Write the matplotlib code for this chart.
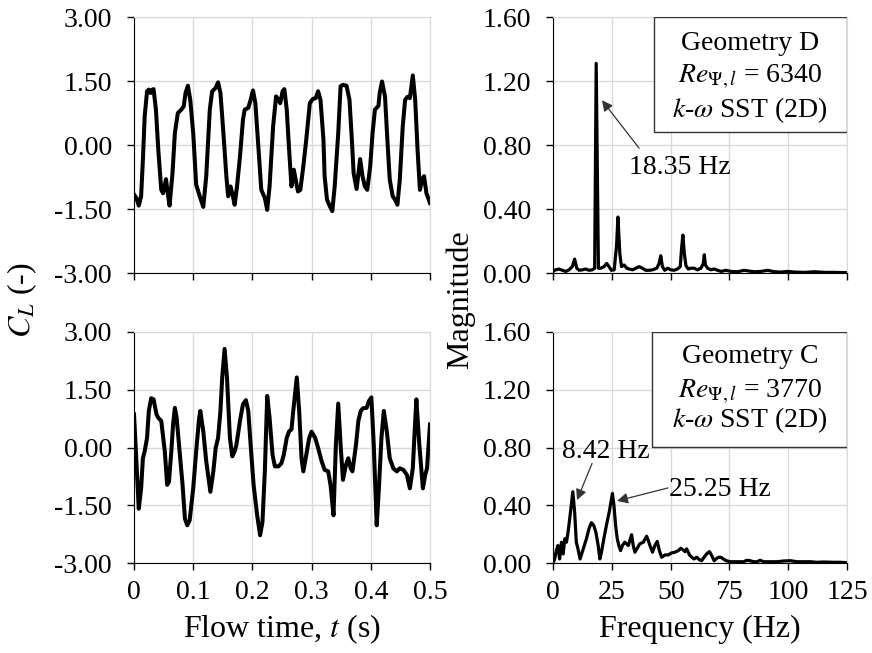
import matplotlib
matplotlib.use('Agg')
import matplotlib.pyplot as plt
from matplotlib.patches import Rectangle

plt.rcParams['font.family'] = ['Liberation Serif', 'DejaVu Serif']
plt.rcParams['mathtext.fontset'] = 'stix'

# Geometry D: lift coefficient history
T_D = [0.000, 0.004, 0.008, 0.012, 0.015, 0.018, 0.022, 0.025, 0.028, 0.031, 0.033, 0.037, 0.041,
       0.046, 0.049, 0.054, 0.057, 0.060, 0.065, 0.069, 0.074, 0.080, 0.084, 0.087, 0.091, 0.095,
       0.100, 0.105, 0.111, 0.117, 0.122, 0.128, 0.132, 0.138, 0.142, 0.146, 0.151, 0.156, 0.159,
       0.163, 0.166, 0.170, 0.174, 0.179, 0.184, 0.187, 0.193, 0.197, 0.201, 0.205, 0.210, 0.215,
       0.221, 0.225, 0.229, 0.235, 0.240, 0.244, 0.247, 0.251, 0.254, 0.258, 0.262, 0.266, 0.270,
       0.273, 0.277, 0.281, 0.286, 0.291, 0.297, 0.302, 0.307, 0.311, 0.315, 0.320, 0.322, 0.326,
       0.331, 0.335, 0.339, 0.345, 0.349, 0.353, 0.359, 0.364, 0.368, 0.371, 0.376, 0.382, 0.386,
       0.390, 0.394, 0.399, 0.403, 0.407, 0.413, 0.415, 0.419, 0.424, 0.428, 0.432, 0.437, 0.441,
       0.445, 0.449, 0.454, 0.458, 0.462, 0.466, 0.471, 0.475, 0.479, 0.483, 0.487, 0.490, 0.494,
       0.500]
CL_D = [-1.16, -1.24, -1.42, -1.20, -0.34, 0.67, 1.26, 1.30, 1.22, 1.30, 1.31, 0.83, -0.11,
        -1.05, -1.13, -0.80, -1.13, -1.42, -0.66, 0.28, 0.75, 0.83, 0.91, 1.22, 1.39, 1.06,
        0.28, -0.93, -1.20, -1.45, -0.73, 0.83, 1.26, 1.34, 1.47, 1.22, 0.28, -0.73, -1.20,
        -0.97, -1.13, -1.40, -0.97, -0.27, 0.59, 0.83, 0.87, 1.06, 1.28, 0.98, -0.03, -1.05,
        -1.24, -1.52, -0.97, 0.44, 1.14, 1.06, 0.98, 1.26, 1.31, 0.83, -0.11, -0.97, -0.58,
        -0.81, -1.09, -1.05, -0.50, 0.13, 0.98, 1.08, 1.10, 1.26, 1.06, 0.13, -0.73, -1.28,
        -1.44, -1.55, -0.97, 0.28, 1.38, 1.41, 1.39, 1.06, 0.13, -0.66, -1.03, -0.33, -0.73,
        -0.97, -1.05, -0.50, 0.28, 0.83, 0.92, 1.22, 1.49, 1.14, 0.13, -0.81, -1.20, -1.28,
        -1.40, -0.81, 0.44, 1.06, 1.13, 1.10, 1.63, 1.06, -0.11, -1.05, -0.80, -0.73, -1.13,
        -1.36]

# Geometry C: lift coefficient history
T_C = [0.000, 0.004, 0.008, 0.012, 0.015, 0.018, 0.022, 0.025, 0.029, 0.033, 0.038, 0.041, 0.046,
       0.052, 0.056, 0.059, 0.063, 0.066, 0.069, 0.072, 0.076, 0.082, 0.086, 0.090, 0.094, 0.100,
       0.105, 0.110, 0.112, 0.117, 0.122, 0.129, 0.134, 0.138, 0.142, 0.146, 0.149, 0.153, 0.157,
       0.162, 0.166, 0.170, 0.173, 0.179, 0.184, 0.189, 0.193, 0.197, 0.202, 0.208, 0.213, 0.217,
       0.221, 0.225, 0.229, 0.234, 0.238, 0.244, 0.249, 0.253, 0.258, 0.262, 0.266, 0.269, 0.275,
       0.279, 0.283, 0.286, 0.290, 0.296, 0.300, 0.306, 0.311, 0.317, 0.322, 0.328, 0.332, 0.337,
       0.341, 0.345, 0.349, 0.353, 0.358, 0.362, 0.366, 0.369, 0.375, 0.379, 0.383, 0.387, 0.393,
       0.397, 0.401, 0.405, 0.410, 0.414, 0.418, 0.422, 0.427, 0.432, 0.438, 0.444, 0.449, 0.455,
       0.461, 0.466, 0.471, 0.475, 0.477, 0.482, 0.488, 0.492, 0.495, 0.500]
CL_C = [0.86, -0.36, -1.59, -1.06, -0.28, -0.10, 0.25, 0.95, 1.28, 1.25, 0.86, 0.77, 0.69,
        -0.10, -0.97, -0.89, -0.10, 0.60, 1.03, 0.77, 0.07, -0.97, -1.85, -2.02, -1.89, -1.06,
        -0.10, 0.77, 0.95, 0.42, -0.36, -1.15, -0.62, -0.01, 0.25, 0.95, 1.82, 2.56, 1.82,
        0.25, -0.23, -0.10, 0.07, 0.69, 1.12, 1.23, 0.95, 0.07, -0.97, -1.76, -2.28, -1.93,
        -0.62, 1.34, 0.77, -0.19, -0.49, -0.49, -0.41, -0.19, 0.25, 0.42, 0.47, 0.95, 1.82,
        0.95, -0.28, -0.62, -0.28, 0.25, 0.41, 0.25, -0.01, -0.36, -0.58, -0.62, -0.97, -1.76,
        0.07, 1.14, 0.07, -0.84, -0.45, -0.28, -0.54, -0.62, 0.07, 0.69, 0.95, 1.02, 1.03,
        1.21, 1.30, 0.07, -2.02, -0.97, 0.25, 0.95, 0.42, -0.28, -0.54, -0.62, -0.54, -0.58,
        -0.71, -1.06, -0.54, 0.69, 1.25, 0.07, -1.06, -0.71, -0.54, 0.60]

# Geometry D: spectrum
F_D = [0, 1.1, 2.6, 4.0, 5.4, 6.8, 8.2, 9.2, 10.1, 11.1, 12.5, 13.9, 15.3, 16.7, 17.7, 18.35,
       19.3, 20.3, 21.7, 22.8, 23.8, 24.8, 26.0, 27.0, 27.6, 28.4, 29.1, 30.2, 31.4, 32.4, 33.8,
       35.2, 36.6, 38.0, 39.4, 40.9, 42.3, 44.1, 45.1, 45.8, 46.5, 47.5, 48.7, 50.1, 51.5, 52.9,
       54.1, 54.6, 55.2, 55.8, 56.5, 57.5, 58.6, 60.0, 61.4, 62.9, 63.9, 64.3, 64.8, 65.7, 67.1,
       68.5, 70.0, 71.4, 73.5, 75.6, 78.5, 81.3, 83.4, 85.6, 88.4, 91.2, 94.1, 96.9, 99.8, 102.6,
       106.9, 111.1, 115.4, 119.6, 125.0]
MAG_D = [0.010, 0.020, 0.025, 0.017, 0.010, 0.020, 0.040, 0.087, 0.030, 0.017, 0.020, 0.025,
         0.017, 0.020, 0.030, 1.310, 0.030, 0.030, 0.040, 0.060, 0.040, 0.017, 0.020, 0.170,
         0.350, 0.120, 0.040, 0.050, 0.030, 0.025, 0.020, 0.030, 0.040, 0.030, 0.017, 0.017,
         0.020, 0.030, 0.060, 0.108, 0.040, 0.017, 0.030, 0.020, 0.017, 0.025, 0.040, 0.145,
         0.237, 0.125, 0.046, 0.025, 0.030, 0.030, 0.020, 0.030, 0.060, 0.114, 0.050, 0.030,
         0.020, 0.025, 0.017, 0.010, 0.017, 0.010, 0.008, 0.017, 0.012, 0.008, 0.010, 0.017,
         0.008, 0.006, 0.010, 0.006, 0.004, 0.008, 0.004, 0.004, 0.002]

# Geometry C: spectrum
F_C = [0, 0.7, 1.4, 2.1, 2.8, 3.6, 4.3, 5.0, 5.7, 6.4, 7.1, 8.42, 9.2, 9.9, 10.6, 11.5, 12.4,
       13.3, 14.2, 15.3, 16.3, 17.3, 18.2, 19.2, 19.9, 20.6, 21.6, 22.7, 23.9, 25.25, 25.9, 26.6,
       27.3, 28.0, 28.7, 29.5, 30.5, 32.0, 33.4, 34.1, 34.8, 35.8, 36.9, 38.4, 39.8, 40.5, 41.2,
       42.3, 43.3, 44.3, 45.2, 46.2, 47.6, 49.0, 50.4, 51.8, 53.3, 54.3, 55.1, 56.1, 56.8, 58.0,
       59.0, 59.9, 61.1, 62.2, 63.2, 64.2, 65.3, 66.5, 67.5, 68.5, 69.3, 70.3, 71.3, 72.4, 73.6,
       75.3, 78.1, 81.0, 82.4, 83.8, 85.2, 86.7, 88.1, 89.5, 92.3, 95.2, 98.0, 100.9, 103.7,
       106.5, 109.4, 112.2, 115.1, 119.3, 122.2, 125.0]
MAG_C = [0.000, 0.028, 0.086, 0.121, 0.028, 0.144, 0.063, 0.168, 0.144, 0.214, 0.307, 0.494,
         0.350, 0.144, 0.098, 0.028, 0.075, 0.121, 0.168, 0.238, 0.279, 0.261, 0.214, 0.121,
         0.028, 0.075, 0.168, 0.261, 0.354, 0.482, 0.400, 0.261, 0.168, 0.121, 0.086, 0.121,
         0.144, 0.121, 0.196, 0.121, 0.075, 0.102, 0.133, 0.144, 0.186, 0.156, 0.121, 0.075,
         0.121, 0.149, 0.086, 0.040, 0.056, 0.056, 0.070, 0.075, 0.086, 0.102, 0.093, 0.079,
         0.098, 0.056, 0.040, 0.028, 0.040, 0.023, 0.016, 0.040, 0.063, 0.079, 0.051, 0.016,
         0.028, 0.040, 0.040, 0.028, 0.016, 0.009, 0.009, 0.009, 0.019, 0.016, 0.009, 0.009,
         0.019, 0.009, 0.009, 0.009, 0.014, 0.016, 0.009, 0.009, 0.009, 0.005, 0.007, 0.005,
         0.005, 0.002]

GRID = '#d9d9d9'
TICK_FS = 20
LABEL_FS = 23


def style_axes(ax):
    ax.grid(True, color=GRID, lw=1)
    ax.set_axisbelow(True)
    for s in ('top', 'right'):
        ax.spines[s].set_color(GRID)
    for s in ('left', 'bottom'):
        ax.spines[s].set_color('black')
    ax.tick_params(direction='out', length=5, width=1, labelsize=TICK_FS,
                   top=False, right=False)
    ax.tick_params(axis='y', pad=11)
    ax.tick_params(axis='x', pad=7)


fig = plt.figure(figsize=(8.72, 6.53), dpi=100)
ax_tl = fig.add_axes([0.1537, 0.5819, 0.3394, 0.392])
ax_bl = fig.add_axes([0.1537, 0.1378, 0.3394, 0.3538])
ax_tr = fig.add_axes([0.6342, 0.5819, 0.3372, 0.392])
ax_br = fig.add_axes([0.6342, 0.1378, 0.3372, 0.3538])

for ax, t, cl in ((ax_tl, T_D, CL_D), (ax_bl, T_C, CL_C)):
    ax.plot(t, cl, color='black', lw=2.9, solid_joinstyle='round')
    ax.set_xlim(0, 0.5)
    ax.set_ylim(-3, 3)
    ax.set_yticks([-3, -1.5, 0, 1.5, 3])
    ax.set_yticklabels(['-3.00', '-1.50', '0.00', '1.50', '3.00'])
    ax.set_xticks([0, 0.1, 0.2, 0.3, 0.4, 0.5])
    style_axes(ax)
ax_tl.set_xticklabels([])
ax_bl.set_xticklabels(['0', '0.1', '0.2', '0.3', '0.4', '0.5'])

for ax, f, m in ((ax_tr, F_D, MAG_D), (ax_br, F_C, MAG_C)):
    ax.plot(f, m, color='black', lw=2.3, solid_joinstyle='round')
    ax.set_xlim(0, 125)
    ax.set_ylim(0, 1.6)
    ax.set_yticks([0, 0.4, 0.8, 1.2, 1.6])
    ax.set_yticklabels(['0.00', '0.40', '0.80', '1.20', '1.60'])
    ax.set_xticks([0, 25, 50, 75, 100, 125])
    style_axes(ax)
ax_tr.set_xticklabels([])
ax_br.set_xticklabels(['0', '25', '50', '75', '100', '125'])

arrow = dict(arrowstyle='-|>', color='#333333', lw=0.9, mutation_scale=16,
             shrinkA=0, shrinkB=0)
ax_tr.annotate('', xy=(20.8, 1.08), xytext=(36.6, 0.78), arrowprops=arrow)
ax_tr.text(32.5, 0.66, '18.35 Hz', fontsize=TICK_FS, ha='left', va='center')
ax_br.annotate('', xy=(10.2, 0.436), xytext=(16.6, 0.69), arrowprops=arrow)
ax_br.text(3.8, 0.77, '8.42 Hz', fontsize=TICK_FS, ha='left', va='center')
ax_br.annotate('', xy=(27.2, 0.43), xytext=(48.9, 0.52), arrowprops=arrow)
ax_br.text(49.3, 0.506, '25.25 Hz', fontsize=TICK_FS, ha='left', va='center')

boxes = [
    (ax_tr, 0.344, 0.551, ['Geometry D', r'$Re_{\Psi,l}$ = 6340', r'$k$-$\omega$ SST (2D)'],
     [0.898, 0.766, 0.637]),
    (ax_br, 0.337, 0.502, ['Geometry C', r'$Re_{\Psi,l}$ = 3770', r'$k$-$\omega$ SST (2D)'],
     [0.892, 0.740, 0.619]),
]
for ax, x0, y0, lines, ys in boxes:
    ax.add_patch(Rectangle((x0, y0), 1 - x0, 1 - y0, transform=ax.transAxes,
                           facecolor='white', edgecolor='#333333', lw=1, zorder=3))
    for txt, y in zip(lines, ys):
        ax.text(0.67, y, txt, transform=ax.transAxes, fontsize=TICK_FS,
                ha='center', va='center', zorder=4)

fig.text(22 / 872, 1 - 300 / 653, r'$C_L$ (-)', rotation=90, fontsize=LABEL_FS,
         ha='center', va='center')
fig.text(460 / 872, 1 - 300 / 653, 'Magnitude', rotation=90, fontsize=LABEL_FS,
         ha='center', va='center')
fig.text(282 / 872, 1 - 629 / 653, r'Flow time, $t$ (s)', fontsize=LABEL_FS,
         ha='center', va='center')
fig.text(700 / 872, 1 - 629 / 653, 'Frequency (Hz)', fontsize=LABEL_FS,
         ha='center', va='center')

fig.savefig('out.png', dpi=100)
